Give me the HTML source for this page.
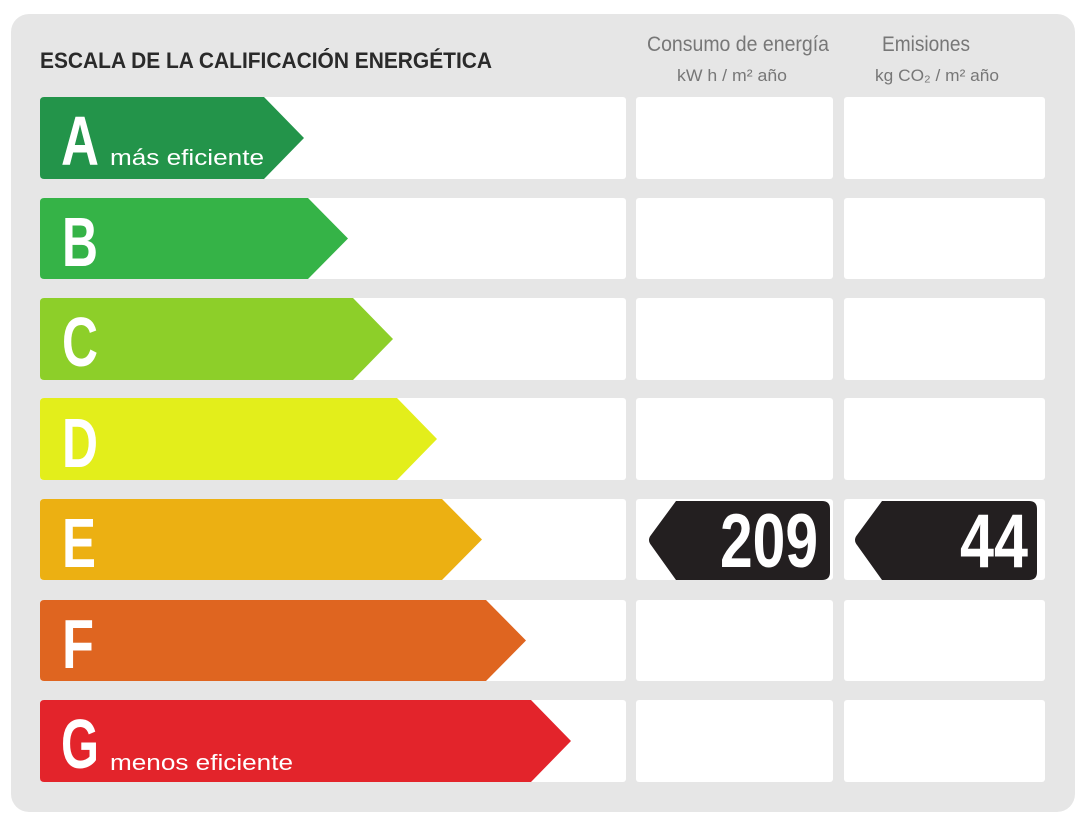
<!DOCTYPE html>
<html><head><meta charset="utf-8"><style>
html,body{margin:0;padding:0;background:#fff;}
svg{display:block;}
</style></head><body>
<svg width="1086" height="827" viewBox="0 0 1086 827" xmlns="http://www.w3.org/2000/svg" font-family="Liberation Sans, sans-serif">
<rect x="11" y="14" width="1064" height="798" rx="18" fill="#e6e6e6"/>
<text x="40" y="68" font-size="22" font-weight="bold" fill="#2a2a2a" textLength="452" lengthAdjust="spacingAndGlyphs">ESCALA DE LA CALIFICACIÓN ENERGÉTICA</text>
<text x="738" y="51" font-size="21" fill="#777" text-anchor="middle" textLength="182" lengthAdjust="spacingAndGlyphs">Consumo de energía</text>
<text x="732" y="81" font-size="17" fill="#777" text-anchor="middle" textLength="110" lengthAdjust="spacingAndGlyphs">kW h / m² año</text>
<text x="926" y="51" font-size="21" fill="#777" text-anchor="middle" textLength="88" lengthAdjust="spacingAndGlyphs">Emisiones</text>
<text x="937" y="81" font-size="17" fill="#777" text-anchor="middle" textLength="124" lengthAdjust="spacingAndGlyphs">kg CO₂ / m² año</text>
<g fill="#fff">
<rect x="40" y="97" width="586" height="82" rx="3"/><rect x="636" y="97" width="197" height="82" rx="3"/><rect x="844" y="97" width="201" height="82" rx="3"/>
<rect x="40" y="198" width="586" height="81" rx="3"/><rect x="636" y="198" width="197" height="81" rx="3"/><rect x="844" y="198" width="201" height="81" rx="3"/>
<rect x="40" y="298" width="586" height="82" rx="3"/><rect x="636" y="298" width="197" height="82" rx="3"/><rect x="844" y="298" width="201" height="82" rx="3"/>
<rect x="40" y="398" width="586" height="82" rx="3"/><rect x="636" y="398" width="197" height="82" rx="3"/><rect x="844" y="398" width="201" height="82" rx="3"/>
<rect x="40" y="499" width="586" height="81" rx="3"/><rect x="636" y="499" width="197" height="81" rx="3"/><rect x="844" y="499" width="201" height="81" rx="3"/>
<rect x="40" y="600" width="586" height="81" rx="3"/><rect x="636" y="600" width="197" height="81" rx="3"/><rect x="844" y="600" width="201" height="81" rx="3"/>
<rect x="40" y="700" width="586" height="82" rx="3"/><rect x="636" y="700" width="197" height="82" rx="3"/><rect x="844" y="700" width="201" height="82" rx="3"/>
</g>
<path d="M44 97 H264 L304 138 L264 179 H44 Q40 179 40 175 V101 Q40 97 44 97Z" fill="#23944a"/>
<path d="M44 198 H308 L348 238.5 L308 279 H44 Q40 279 40 275 V202 Q40 198 44 198Z" fill="#35b347"/>
<path d="M44 298 H353 L393 339 L353 380 H44 Q40 380 40 376 V302 Q40 298 44 298Z" fill="#8dcf29"/>
<path d="M44 398 H397 L437 439 L397 480 H44 Q40 480 40 476 V402 Q40 398 44 398Z" fill="#e3ee1b"/>
<path d="M44 499 H442 L482 539.5 L442 580 H44 Q40 580 40 576 V503 Q40 499 44 499Z" fill="#ecb012"/>
<path d="M44 600 H486 L526 640.5 L486 681 H44 Q40 681 40 677 V604 Q40 600 44 600Z" fill="#df6520"/>
<path d="M44 700 H531 L571 741 L531 782 H44 Q40 782 40 778 V704 Q40 700 44 700Z" fill="#e3242b"/>
<g fill="#fff" font-weight="bold" font-size="70">
<text x="61" y="165" textLength="38" lengthAdjust="spacingAndGlyphs">A</text>
<text x="62" y="266" textLength="36" lengthAdjust="spacingAndGlyphs">B</text>
<text x="62" y="366" textLength="36" lengthAdjust="spacingAndGlyphs">C</text>
<text x="62" y="467" textLength="36" lengthAdjust="spacingAndGlyphs">D</text>
<text x="62" y="567" textLength="34" lengthAdjust="spacingAndGlyphs">E</text>
<text x="62" y="668" textLength="32" lengthAdjust="spacingAndGlyphs">F</text>
<text x="61" y="768" textLength="38" lengthAdjust="spacingAndGlyphs">G</text>
</g>
<text x="110" y="165" font-size="22" fill="#fff" textLength="154" lengthAdjust="spacingAndGlyphs">más eficiente</text>
<text x="110" y="770" font-size="22" fill="#fff" textLength="183" lengthAdjust="spacingAndGlyphs">menos eficiente</text>
<path d="M676 501 H822 Q830 501 830 509 V572 Q830 580 822 580 H676 L651 545 Q647 540 651 535 Z" fill="#231f20"/>
<path d="M882 501 H1029 Q1037 501 1037 509 V572 Q1037 580 1029 580 H882 L857 545 Q853 540 857 535 Z" fill="#231f20"/>
<g fill="#fff" font-weight="bold" font-size="76">
<text x="720" y="567" textLength="98" lengthAdjust="spacingAndGlyphs">209</text>
<text x="960" y="567" textLength="68" lengthAdjust="spacingAndGlyphs">44</text>
</g>
</svg>
</body></html>
